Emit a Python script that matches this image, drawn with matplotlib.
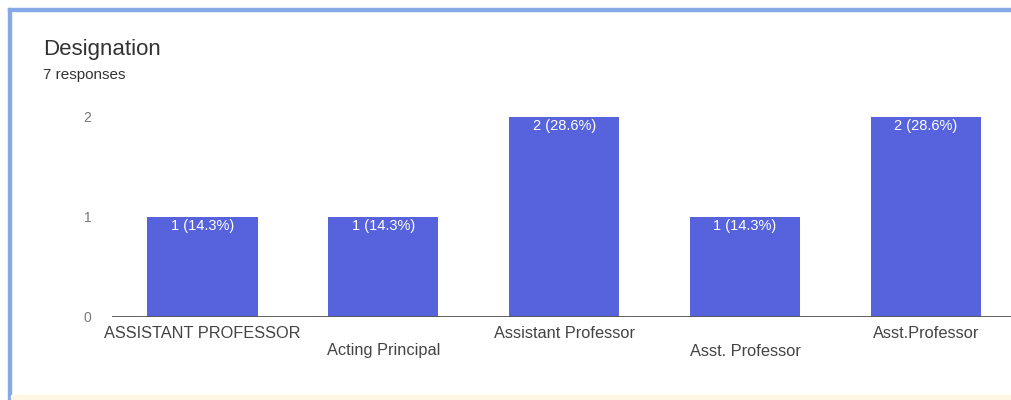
import matplotlib.pyplot as plt
from matplotlib.patches import Rectangle

# data
categories = ['ASSISTANT PROFESSOR', 'Acting Principal', 'Assistant Professor',
              'Asst. Professor', 'Asst.Professor']
counts = [1, 1, 2, 1, 2]
labels = ['1 (14.3%)', '1 (14.3%)', '2 (28.6%)', '1 (14.3%)', '2 (28.6%)']

bar_color = '#5663dd'
plt.rcParams['font.family'] = ['Liberation Sans', 'DejaVu Sans']

fig = plt.figure(figsize=(10.11, 4.0), dpi=100)
ax = fig.add_axes([112 / 1011, 83 / 400, (1011 - 112) / 1011, 200 / 400])

x = list(range(len(categories)))
bars = ax.bar(x, counts, width=0.61, color=bar_color, zorder=2)
ax.set_xlim(-0.5, 4.47)
ax.set_ylim(0, 2)

for b, lab in zip(bars, labels):
    ax.text(b.get_x() + b.get_width() / 2, b.get_height() - 0.09, lab,
            ha='center', va='center', color='white', fontsize=10.5, zorder=3)

# baseline
ax.axhline(0, color='#555555', lw=1.3, zorder=3)
for s in ax.spines.values():
    s.set_visible(False)

ax.set_yticks([0, 1, 2])
ax.tick_params(axis='y', length=0, pad=15, labelsize=10, labelcolor='#777777')
ax.set_xticks([])

# staggered category labels
for i, cat in enumerate(categories):
    off = 0 if i % 2 == 0 else 18
    ax.annotate(cat, xy=(i, 0), xycoords='data', xytext=(0, -16 - off),
                textcoords='offset pixels', ha='center', va='center',
                fontsize=11.8, color='#444444')

fig.text(43 / 1011, 1 - 50 / 400, 'Designation', fontsize=16, color='#333333',
         va='center', ha='left')
fig.text(43 / 1011, 1 - 75 / 400, '7 responses', fontsize=11, color='#333333',
         va='center', ha='left')

# card border (left, top, bottom)
fig.patches.append(Rectangle((8 / 1011, 0), 3 / 1011, 1 - 8 / 400,
                             transform=fig.transFigure, color='#84a9e6'))
fig.patches.append(Rectangle((8 / 1011, 1 - 11 / 400), 1, 3 / 400,
                             transform=fig.transFigure, color='#84a9e6'))
fig.patches.append(Rectangle((11 / 1011, 1 / 400), 1, 4 / 400,
                             transform=fig.transFigure, color='#fdf6e3'))

fig.savefig('out.png', dpi=100)
